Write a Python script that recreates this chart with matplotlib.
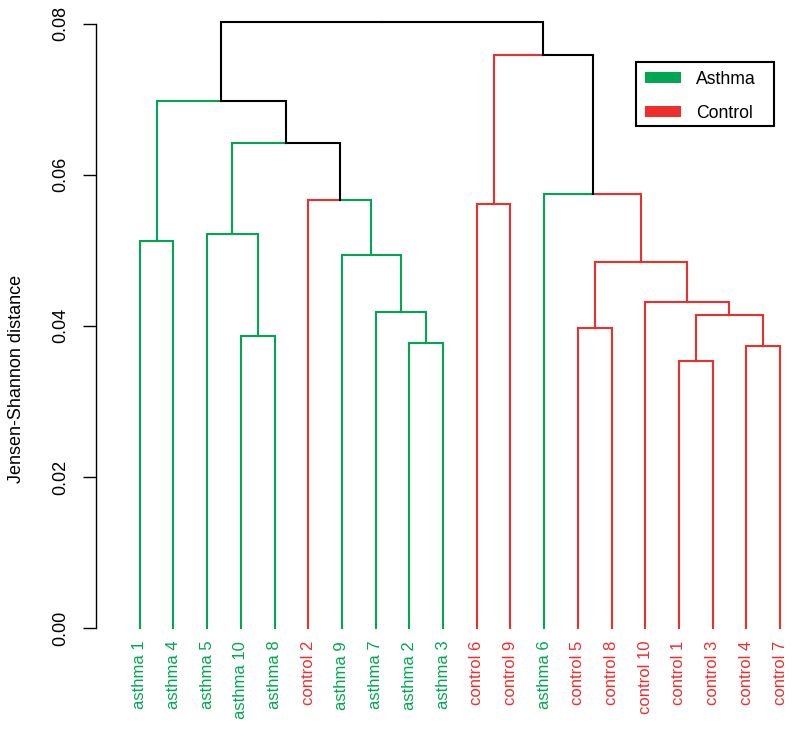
import matplotlib
matplotlib.use("Agg")
import matplotlib.pyplot as plt
from matplotlib.patches import Patch, Rectangle

plt.rcParams['font.family'] = ['Liberation Sans', 'DejaVu Sans']

# leaves in plotting order
leaf_labels = ['asthma 1', 'asthma 4', 'asthma 5', 'asthma 10', 'asthma 8',
               'control 2', 'asthma 9', 'asthma 7', 'asthma 2', 'asthma 3',
               'control 6', 'control 9', 'asthma 6', 'control 5', 'control 8',
               'control 10', 'control 1', 'control 3', 'control 4', 'control 7']
leaf_groups = [lab.split()[0] for lab in leaf_labels]

# merges, R hclust style: negative = leaf (1-based position), positive = earlier merge
merge_left = [-17, -19, -9, -4, -14, 1, -8, -16, 5, -7, -1, -3, -11, -6, -13, 12, 11, 13, 17]
merge_right = [-18, -20, -10, -5, -15, 2, 3, 6, 8, 7, -2, 4, -12, 10, 9, 14, 16, 15, 18]
merge_height = [0.0353, 0.0374, 0.0377, 0.0386, 0.0397, 0.0414, 0.0419, 0.0432, 0.0485,
                0.0494, 0.0512, 0.0522, 0.0561, 0.0567, 0.0575, 0.0642, 0.0697, 0.0758, 0.0802]

group_colors = {'asthma': '#00A651', 'control': '#EE2D2D'}
legend_names = ['Asthma', 'Control']

fig = plt.figure(figsize=(8, 7.32), dpi=100)
ax = fig.add_axes([95.7 / 800, (732 - 628.3) / 732, 701.15 / 800, 604.8 / 732])


def node_info(k):
    # x position, height, groups below
    if k < 0:
        i = -k - 1
        return i, 0.0, {leaf_groups[i]}
    return nodes[k - 1]


nodes = []
for l, r, h in zip(merge_left, merge_right, merge_height):
    xl, hl, gl = node_info(l)
    xr, hr, gr = node_info(r)
    xm = (xl + xr) / 2
    for xc, hc, gc in [(xl, hl, gl), (xr, hr, gr)]:
        col = group_colors[next(iter(gc))] if len(gc) == 1 else 'black'
        ax.plot([xm, xc, xc], [h, h, hc], color=col, lw=1.5,
                solid_joinstyle='miter', clip_on=False)
    nodes.append((xm, h, gl | gr))

ax.set_xlim(-1.306, 19.5)
ax.set_ylim(0, 0.08)
for s in ['top', 'right', 'bottom']:
    ax.spines[s].set_visible(False)
ax.spines['left'].set_bounds(0, 0.08)
ax.spines['left'].set_linewidth(1.0)

ax.set_yticks([0, 0.02, 0.04, 0.06, 0.08])
ax.set_yticklabels(['0.00', '0.02', '0.04', '0.06', '0.08'])
ax.tick_params(axis='y', length=9.4, width=1.0, pad=10, labelsize=13)
for t in ax.get_yticklabels():
    t.set_rotation(90)
    t.set_va('center')

ax.set_xticks(range(len(leaf_labels)))
ax.set_xticklabels(leaf_labels, rotation=90, fontsize=12)
ax.tick_params(axis='x', length=0, pad=9)
for t, g in zip(ax.get_xticklabels(), leaf_groups):
    t.set_color(group_colors[g])

ax.set_ylabel('Jensen-Shannon distance', fontsize=13)
ax.yaxis.set_label_coords(-(95.7 - 25) / 701.15, (628.3 - 379) / 604.8)

# legend: R-style box, wider than its contents
handles = [Patch(facecolor=group_colors[n.lower()], edgecolor='none', label=n) for n in legend_names]
leg = ax.legend(handles=handles, loc='upper left', bbox_to_anchor=(636 / 800, 1 - 62 / 732),
                bbox_transform=fig.transFigure, fontsize=12.7, frameon=False,
                borderaxespad=0, handlelength=2.05, handleheight=0.55, labelspacing=0.95,
                borderpad=0.5, handletextpad=0.85)
fig.patches.append(Rectangle((636 / 800, 1 - 126 / 732), 138 / 800, 64 / 732,
                             transform=fig.transFigure, fill=False, edgecolor='black',
                             linewidth=1.5, figure=fig))

fig.savefig('out.png', dpi=100)
